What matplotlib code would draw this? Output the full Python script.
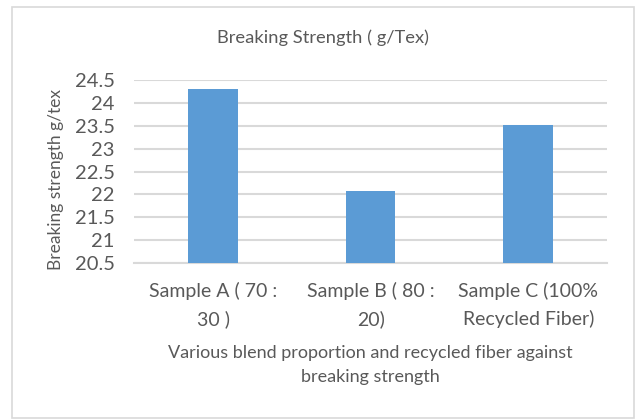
import matplotlib
matplotlib.use("Agg")
import matplotlib.pyplot as plt
import matplotlib.patches as patches

categories = ["Sample A ( 70 :\n30 )", "Sample B ( 80 :\n20)", "Sample C (100%\nRecycled Fiber)"]
strength = [24.3, 22.07, 23.53]
yticks = [20.5, 21, 21.5, 22, 22.5, 23, 23.5, 24, 24.5]

txt = "#595959"
grid = "#d9d9d9"
bar_col = "#5b9bd5"

plt.rcParams['font.family'] = ['Lato', 'DejaVu Sans']

fig = plt.figure(figsize=(6.36, 4.19), dpi=100)
ax = fig.add_axes([134.3 / 636, 1 - 262.7 / 419, (607 - 134.3) / 636, (262.7 - 80.3) / 419])

# chart border
fig.patches.append(patches.Rectangle((12 / 636, 1 - 418 / 419), 622 / 636, 411 / 419,
                                     transform=fig.transFigure, fill=False,
                                     edgecolor=grid, linewidth=1.2))

x = range(len(categories))
ax.bar(x, strength, width=0.315, color=bar_col, zorder=3)
ax.set_xlim(-0.5, 2.5)
ax.set_ylim(20.5, 24.5)
ax.set_yticks(yticks)
ax.set_yticklabels([f"{v:g}" for v in yticks])
ax.set_xticks(list(x))
ax.set_xticklabels(categories, linespacing=1.65)

ax.yaxis.grid(True, color=grid, linewidth=1.5, zorder=0)
for s in ["top", "right", "left"]:
    ax.spines[s].set_visible(False)
ax.spines["bottom"].set_color(grid)
ax.spines["bottom"].set_linewidth(1.5)
ax.tick_params(axis="y", length=0, colors=txt, labelsize=14.5, pad=14)
ax.tick_params(axis="x", length=0, colors=txt, labelsize=14, pad=14)

fig.text(323 / 636, 1 - 38 / 419, "Breaking Strength ( g/Tex)", color=txt, fontsize=13.2,
         ha="center", va="center")
ax.set_xlabel("Various blend proportion and recycled fiber against\nbreaking strength",
              color=txt, fontsize=13, labelpad=12, linespacing=1.6)
ax.set_ylabel("Breaking strength g/tex", color=txt, fontsize=12.5)
ax.yaxis.set_label_coords(-70 / 472.7, 0.5 - 8 / 182.4)

fig.savefig("out.png", dpi=100)
